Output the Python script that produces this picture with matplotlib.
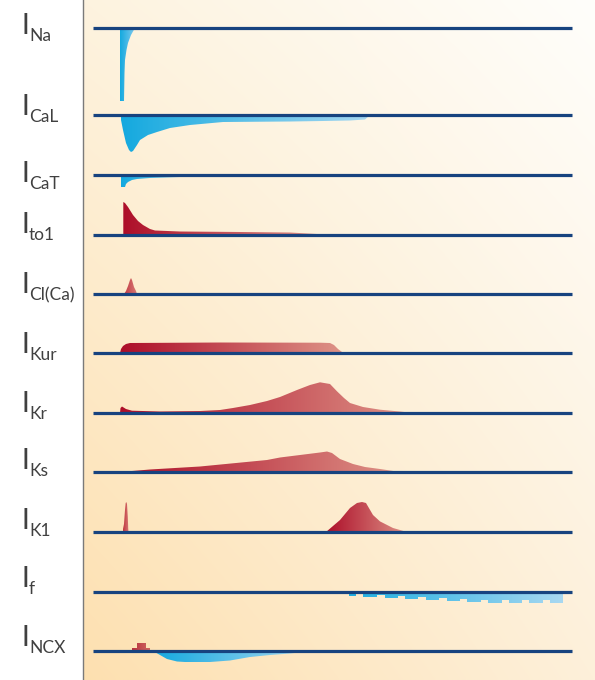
import matplotlib
matplotlib.use("Agg")
import matplotlib.pyplot as plt
import numpy as np
from matplotlib.colors import LinearSegmentedColormap, to_rgb

# time in ms after upstroke, current in arbitrary units (outward positive)
names = ['Na', 'CaL', 'CaT', 'to1', 'Cl(Ca)', 'Kur', 'Kr', 'Ks', 'K1', 'f', 'NCX']

ina_t = [0, 0, 4, 4.5, 5, 6.5, 8, 11, 15]
ina_a = [0, -73, -73, -45, -32, -22, -15, -7, 0]

ical_t = [0.5, 1, 3, 6, 9, 11, 13, 17, 20, 28, 37, 50, 70, 103, 170, 203, 230, 245, 250]
ical_a = [0, -5, -15, -28, -35, -37, -36, -30, -25, -20, -17, -13, -10, -7, -6.5, -6, -5.5, -4.5, 0]

icat_t = [0.7, 0.7, 5, 6, 8, 12, 17, 30, 60, 90, 100]
icat_a = [0, -12, -12, -9, -7, -5, -4, -3, -2, -0.8, 0]

ito_t = [3.3, 3.3, 5, 8, 13, 18, 23, 30, 35, 60, 120, 170, 197, 200]
ito_a = [0, 33, 32, 28, 20, 14, 10, 6, 4.5, 3.5, 3, 2.5, 1, 0]

icl_t = [4, 6, 8, 10, 11, 12, 14, 16, 17]
icl_a = [0, 3, 8, 14, 16, 14, 7, 3, 0]

ikur_t = [0, 1, 3, 6, 10, 100, 200, 210, 214, 218, 222, 223]
ikur_a = [0, 4, 7, 9, 10, 10.5, 10.3, 10, 8, 4, 1, 0]

ikr_t = [0, 0.5, 2, 6, 12, 40, 80, 100, 113, 130, 147, 160, 177, 190, 200, 210,
         217, 224, 230, 243, 260, 280, 293]
ikr_a = [0, 5, 6.5, 4, 2.3, 1.5, 2, 3, 5, 8, 12, 16, 23, 28, 30.7, 29,
         21.7, 15, 10, 6, 3.3, 1.5, 0]

iks_t = [0, 30, 80, 147, 160, 180, 200, 207, 212, 220, 233, 245, 260, 280]
iks_a = [0, 2.5, 5.5, 12, 14.5, 17, 19.5, 20.5, 19, 13, 8, 5, 3, 0]

ik1_spike_t = [2.5, 3, 4, 5, 5.7, 6.3, 7, 7.8, 8.2, 8.5]
ik1_spike_a = [0, 3, 8, 22, 29, 30, 28, 15, 4, 0]
ik1_t = [206, 213, 220, 230, 237, 242, 246, 253, 260, 273, 287]
ik1_a = [0, 6, 12, 24, 29, 30, 29, 17, 10.6, 4, 0]

if_t = [229, 236, 243, 257, 265, 278, 285, 298, 306, 319, 327, 340, 347, 361,
        368, 382, 389, 402, 409, 423, 430, 443]
if_a = [-3.5, -1.5, -5, -3, -6, -4, -6.5, -4.5, -7.5, -5.5, -9, -6.5, -10, -7.5,
        -11, -8, -11, -8, -11, -8, -11, 0]

incx_out_t = [11.5, 17, 26, 29.5]
incx_out_a = [3.5, 8, 3.5, 0]
incx_in_t = [33, 40, 47, 57, 65, 90, 110, 130, 150, 170, 193]
incx_in_a = [0, -4, -8, -10.5, -11, -11, -9.5, -6, -4, -2.5, 0]

# layout (figure pixels from top)
baselines = [28, 115, 175, 235, 294, 353, 413, 472, 532, 592, 651]
label_base = [34, 115, 182, 233, 293, 353, 412, 469, 529, 587, 646]

blue0, blue1 = '#14a9df', '#a8d8f1'
red0, red1 = '#ad0e29', '#de9387'


def grad_fill(ax, t, a, base, c0, c1, step=None):
    t = np.asarray(t, float)
    y = base - np.asarray(a, float)
    poly = ax.fill_between(t, base, y, step=step, facecolor='none', edgecolor='none')
    path = poly.get_paths()[0]
    cmap = LinearSegmentedColormap.from_list('g', [c0, c1])
    grad = np.linspace(0, 1, 256).reshape(1, -1)
    y0, y1 = min(y.min(), base), max(y.max(), base)
    im = ax.imshow(grad, cmap=cmap, extent=(t.min(), t.max(), y1, y0),
                   aspect='auto', zorder=2, interpolation='bilinear')
    im.set_clip_path(path, transform=ax.transData)


W, H = 595, 680
fig = plt.figure(figsize=(W / 100, H / 100), dpi=100, facecolor='white')
x_axis = 83
ax = fig.add_axes([x_axis / W, 0, 1 - x_axis / W, 1])
t_left, t_right = x_axis - 120, W - 120

# background
bl, br, tl, tr = [np.array(to_rgb(c)) for c in ('#fde0b0', '#fdf0da', '#fdf3df', '#fffefb')]
u = np.linspace(0, 1, 200)[None, :, None]
v = np.linspace(0, 1, 200)[:, None, None]  # 0 top, 1 bottom
bg = (1 - v) * ((1 - u) * tl + u * tr) + v * ((1 - u) * bl + u * br)
ax.imshow(bg, extent=(t_left, t_right, H, 0), aspect='auto', zorder=0, interpolation='bilinear')

grad_fill(ax, ina_t, ina_a, baselines[0], blue0, '#7fcaee')
grad_fill(ax, ical_t, ical_a, baselines[1], blue0, blue1)
grad_fill(ax, icat_t, icat_a, baselines[2], blue0, blue1)
grad_fill(ax, ito_t, ito_a, baselines[3], red0, red1)
grad_fill(ax, icl_t, icl_a, baselines[4], '#c23a44', '#d77a75')
grad_fill(ax, ikur_t, ikur_a, baselines[5], red0, red1)
grad_fill(ax, ikr_t, ikr_a, baselines[6], red0, red1)
grad_fill(ax, iks_t, iks_a, baselines[7], red0, red1)
grad_fill(ax, ik1_spike_t, ik1_spike_a, baselines[8], '#c0353f', '#d77a75')
grad_fill(ax, ik1_t, ik1_a, baselines[8], red0, red1)
grad_fill(ax, if_t, if_a, baselines[9], '#1eaee0', blue1, step='post')
grad_fill(ax, incx_out_t, incx_out_a, baselines[10], '#b8303d', '#cf6660', step='post')
grad_fill(ax, incx_in_t, incx_in_a, baselines[10], blue0, blue1)

ax.hlines(baselines, 93 - 120, 572 - 120, color='#17437f', lw=2.3, zorder=5)

for name, yb in zip(names, label_base):
    ax.text(21 - 120, yb, 'I', fontsize=20, family='Lato', color='#404040',
            ha='left', va='baseline', clip_on=False)
    ax.text(29 - 120, yb + 7, name, fontsize=12.5, family='Lato', color='#404040',
            ha='left', va='baseline', clip_on=False)

ax.set_xlim(t_left, t_right)
ax.set_ylim(H, 0)
ax.set_xticks([])
ax.set_yticks([])
for s in ['top', 'right', 'bottom']:
    ax.spines[s].set_visible(False)
ax.spines['left'].set_color('#7a7a7a')
ax.spines['left'].set_linewidth(1.0)

fig.savefig('out.png', dpi=100, facecolor='white')
